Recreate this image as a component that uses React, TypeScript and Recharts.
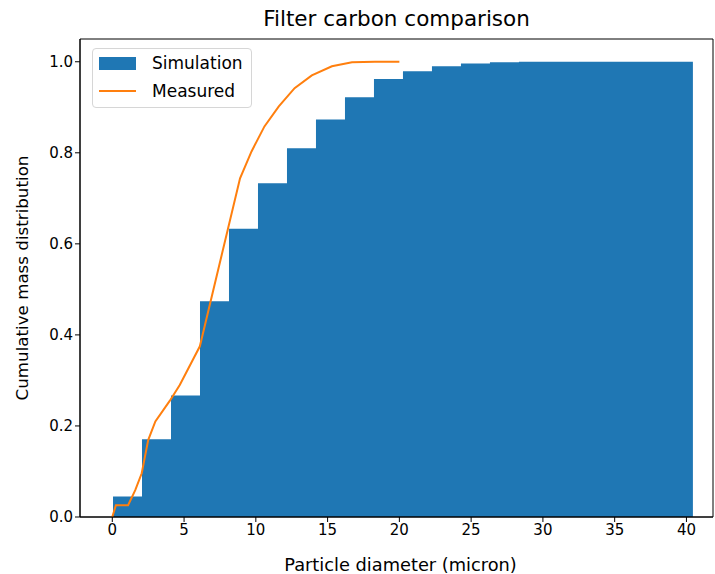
import React from "react";
import {
  ComposedChart,
  Area,
  Line,
  XAxis,
  YAxis,
  ReferenceArea,
} from "recharts";

// histogram bin edges (micron) and cumulative simulated mass per bin
const binEdges = [
  0.05, 2.07, 4.09, 6.11, 8.13, 10.15, 12.17, 14.19, 16.21, 18.23, 20.25,
  22.27, 24.29, 26.31, 28.33, 30.35, 32.37, 34.39, 36.41, 38.43, 40.45,
];
const simCumulative = [
  0.045, 0.171, 0.267, 0.474, 0.633, 0.733, 0.81, 0.873, 0.922, 0.962, 0.979,
  0.99, 0.996, 0.999, 1.0, 1.0, 1.0, 1.0, 1.0, 1.0,
];

// measured cumulative distribution
const measuredDiameter = [
  0, 0.25, 1.1, 1.6, 2.05, 2.5, 3.0, 4.0, 4.7, 6.1, 8.9, 9.7, 10.6, 11.6,
  12.7, 13.9, 15.3, 16.7, 18.3, 20.0,
];
const measuredCumulative = [
  0, 0.026, 0.026, 0.059, 0.096, 0.169, 0.21, 0.255, 0.29, 0.375, 0.744,
  0.803, 0.858, 0.902, 0.942, 0.97, 0.99, 0.999, 1.0, 1.0,
];

const xTicks = [0, 5, 10, 15, 20, 25, 30, 35, 40];
const yTicks = [0, 0.2, 0.4, 0.6, 0.8, 1.0];

const X_DOMAIN: [number, number] = [-2.25, 41.85];
const Y_DOMAIN: [number, number] = [0, 1.05];

const BLUE = "#1f77b4";
const ORANGE = "#ff7f0e";
const FONT = "DejaVu Sans, sans-serif";

// last edge repeats the last bin value so the step closes on the right
const simData = binEdges.map((x, i) => ({
  x,
  sim: simCumulative[Math.min(i, simCumulative.length - 1)],
}));
const measuredData = measuredDiameter.map((x, i) => ({
  x,
  measured: measuredCumulative[i],
}));

const LegendBox = () => (
  <div
    style={{
      position: "absolute",
      left: 92,
      top: 48,
      width: 158,
      height: 58,
      border: "1px solid #d6d6d6",
      borderRadius: 4,
      background: "rgba(255,255,255,0.8)",
      fontFamily: FONT,
      fontSize: 17,
      color: "#000",
    }}
  >
    <div style={{ position: "absolute", left: 6, top: 8, width: 37, height: 13, background: BLUE }} />
    <div style={{ position: "absolute", left: 59, top: 4, lineHeight: "20px" }}>Simulation</div>
    <div style={{ position: "absolute", left: 6, top: 41, width: 37, height: 2, background: ORANGE }} />
    <div style={{ position: "absolute", left: 59, top: 32, lineHeight: "20px" }}>Measured</div>
  </div>
);

export default function App() {
  return (
    <div style={{ position: "absolute", left: 0, top: 0, width: 715, height: 574, background: "#fff" }}>
      <div
        style={{
          position: "absolute",
          left: 80,
          width: 633,
          top: 6,
          textAlign: "center",
          fontFamily: FONT,
          fontSize: 21.5,
          lineHeight: "26px",
          color: "#000",
        }}
      >
        Filter carbon comparison
      </div>
      <ComposedChart
        width={715}
        height={574}
        margin={{ top: 39, right: 2, bottom: 0, left: 0 }}
        style={{ fontFamily: FONT }}
      >
        <XAxis
          dataKey="x"
          type="number"
          domain={X_DOMAIN}
          allowDataOverflow
          ticks={xTicks}
          height={57}
          tickSize={5}
          stroke="#000"
          tick={{ fill: "#000", fontSize: 15 }}
          label={{
            value: "Particle diameter (micron)",
            position: "insideBottom",
            offset: 3,
            dx: 4,
            fill: "#000",
            fontSize: 17.8,
          }}
        />
        <YAxis
          type="number"
          domain={Y_DOMAIN}
          allowDataOverflow
          ticks={yTicks}
          width={80}
          tickSize={5}
          stroke="#000"
          tick={{ fill: "#000", fontSize: 15 }}
          tickFormatter={(v: number) => v.toFixed(1)}
          label={{
            value: "Cumulative mass distribution",
            angle: -90,
            position: "insideLeft",
            offset: 22,
            fill: "#000",
            fontSize: 16.7,
            style: { textAnchor: "middle" },
          }}
        />
        <Area
          data={simData}
          dataKey="sim"
          type="stepAfter"
          fill={BLUE}
          fillOpacity={1}
          stroke="none"
          isAnimationActive={false}
        />
        <Line
          data={measuredData}
          dataKey="measured"
          type="linear"
          stroke={ORANGE}
          strokeWidth={2}
          dot={false}
          isAnimationActive={false}
        />
        <ReferenceArea
          x1={X_DOMAIN[0]}
          x2={X_DOMAIN[1]}
          y1={Y_DOMAIN[0]}
          y2={Y_DOMAIN[1]}
          fill="none"
          stroke="#000"
          strokeWidth={1}
        />
      </ComposedChart>
      <LegendBox />
    </div>
  );
}
